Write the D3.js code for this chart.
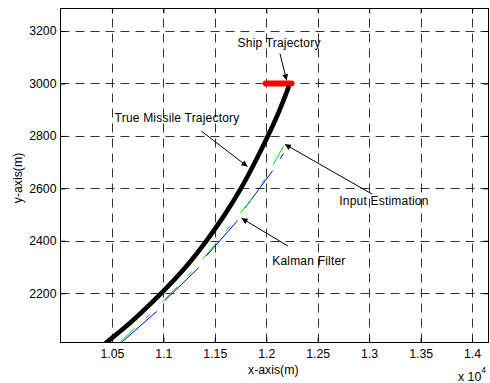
<!DOCTYPE html>
<html>
<head>
<meta charset="utf-8">
<script src="https://cdn.jsdelivr.net/npm/d3@7"></script>
<style>
  html, body { margin: 0; padding: 0; background: #fff; }
  svg { display: block; font-family: "Liberation Sans", Arial, Helvetica, sans-serif; }
</style>
</head>
<body>
<svg id="chart" width="490" height="383"></svg>
<script>
// ---- data (metres) ----
const missileX = [10445, 10700, 10980, 11200, 11404, 11590, 11748, 11880, 12010, 12118, 12215];
const missileY = [2012, 2095, 2200, 2292, 2392, 2496, 2596, 2692, 2795, 2888, 2984];

const shipX = [11995, 12245];
const shipY = [3000, 3000];

const inputEstX = [10575, 10738, 10900, 11143, 11306, 11484, 11679, 11891, 12021, 12200];
const inputEstY = [2012, 2073, 2130, 2228, 2295, 2377, 2473, 2574, 2657, 2784];

const kalmanX = [10592, 10933, 11014, 11338, 11413, 11712, 11777, 12054, 12167];
const kalmanY = [2012, 2130, 2172, 2295, 2340, 2473, 2517, 2663, 2733];

const xTicks = [10500, 11000, 11500, 12000, 12500, 13000, 13500, 14000];
const xTickLabels = ["1.05", "1.1", "1.15", "1.2", "1.25", "1.3", "1.35", "1.4"];
const yTicks = [2200, 2400, 2600, 2800, 3000, 3200];
const yTickLabels = ["2200", "2400", "2600", "2800", "3000", "3200"];

// annotation labels and arrows (data coordinates)
const noteText = ["Ship Trajectory", "True Missile Trajectory", "Input Estimation", "Kalman Filter"];
const noteAt = [[11721, 3139], [10526, 2853], [12710, 2537], [12058, 2308]];
const arrowFrom = [[12133, 3114], [11370, 2818], [13029, 2578], [12211, 2380]];
const arrowTo = [[12198, 3012], [11818, 2683], [12181, 2768], [11760, 2486]];

// ---- layout ----
const svg = d3.select("#chart");
const L = 60.5, R = 488.5, T = 8.5, B = 342.5;
const x = d3.scaleLinear().domain([10000, 14160]).range([L, R]);
const y = d3.scaleLinear().domain([2012, 3286]).range([B, T]);

const defs = svg.append("defs");
defs.append("clipPath").attr("id", "plotClip")
  .append("rect").attr("x", L).attr("y", T).attr("width", R - L).attr("height", B - T);
defs.append("marker").attr("id", "arrowHead")
  .attr("viewBox", "0 0 10 10").attr("refX", 10).attr("refY", 5)
  .attr("markerWidth", 9).attr("markerHeight", 6).attr("markerUnits", "userSpaceOnUse")
  .attr("orient", "auto")
  .append("path").attr("d", "M0,0 L10,5 L0,10 Z").attr("fill", "#000");

// grid
const grid = svg.append("g").attr("stroke", "#333").attr("stroke-width", 1)
  .attr("stroke-dasharray", "9,6").attr("fill", "none");
grid.selectAll("line.gx").data(xTicks).join("line")
  .attr("x1", d => Math.round(x(d)) + 0.5).attr("x2", d => Math.round(x(d)) + 0.5)
  .attr("y1", B).attr("y2", T);
grid.selectAll("line.gy").data(yTicks).join("line")
  .attr("y1", d => Math.round(y(d)) + 0.5).attr("y2", d => Math.round(y(d)) + 0.5)
  .attr("x1", L).attr("x2", R);

// axes with inward ticks on all sides
const xAxisB = d3.axisBottom(x).tickValues(xTicks).tickFormat((d, i) => xTickLabels[i]).tickSize(-5).tickPadding(7);
const xAxisT = d3.axisTop(x).tickValues(xTicks).tickFormat("").tickSize(-5);
const yAxisL = d3.axisLeft(y).tickValues(yTicks).tickFormat((d, i) => yTickLabels[i]).tickSize(-5).tickPadding(4);
const yAxisR = d3.axisRight(y).tickValues(yTicks).tickFormat("").tickSize(-5);

function styleAxis(g) {
  g.select(".domain").remove();
  g.selectAll("line").attr("stroke", "#000");
  g.selectAll("text").attr("fill", "#000").attr("font-size", "12.3px")
    .attr("font-family", "'Liberation Sans', Arial, sans-serif");
}
svg.append("g").attr("transform", `translate(0,${B})`).call(xAxisB).call(styleAxis);
svg.append("g").attr("transform", `translate(0,${T})`).call(xAxisT).call(styleAxis);
svg.append("g").attr("transform", `translate(${L},0)`).call(yAxisL).call(styleAxis);
svg.append("g").attr("transform", `translate(${R},0)`).call(yAxisR).call(styleAxis);

// series
const plot = svg.append("g").attr("clip-path", "url(#plotClip)");
const zip = (xs, ys) => xs.map((v, i) => [v, ys[i]]);
const lineLin = d3.line().x(d => x(d[0])).y(d => y(d[1]));
const lineSmooth = d3.line().x(d => x(d[0])).y(d => y(d[1])).curve(d3.curveCatmullRom.alpha(0.5));

plot.append("path").datum(zip(kalmanX, kalmanY))
  .attr("d", lineLin).attr("fill", "none").attr("stroke", "#0000ff")
  .attr("stroke-width", 1).attr("stroke-dasharray", "47,14");
plot.append("path").datum(zip(inputEstX, inputEstY))
  .attr("d", lineLin).attr("fill", "none").attr("stroke", "#00e000")
  .attr("stroke-width", 1).attr("stroke-dasharray", "21,15,6,17");

plot.append("path").datum(zip(shipX, shipY))
  .attr("d", lineLin).attr("fill", "none").attr("stroke", "#ff0000")
  .attr("stroke-width", 6).attr("stroke-linecap", "round");

plot.append("path").datum(zip(missileX, missileY))
  .attr("d", lineSmooth).attr("fill", "none").attr("stroke", "#000")
  .attr("stroke-width", 4.6).attr("stroke-linecap", "round").attr("stroke-linejoin", "round");

// axes box
svg.append("rect").attr("x", L).attr("y", T).attr("width", R - L).attr("height", B - T)
  .attr("fill", "none").attr("stroke", "#000").attr("stroke-width", 1);

// annotations
const notes = svg.append("g");
noteText.forEach((t, i) => {
  notes.append("line")
    .attr("x1", x(arrowFrom[i][0])).attr("y1", y(arrowFrom[i][1]))
    .attr("x2", x(arrowTo[i][0])).attr("y2", y(arrowTo[i][1]))
    .attr("stroke", "#000").attr("stroke-width", 1).attr("marker-end", "url(#arrowHead)");
  notes.append("text").attr("x", x(noteAt[i][0])).attr("y", y(noteAt[i][1]))
    .attr("font-size", "12px").attr("letter-spacing", "0.2px").attr("fill", "#000").text(t);
});

// axis titles
svg.append("text").attr("x", 248).attr("y", 374).attr("font-size", "12.3px").text("x-axis(m)");
svg.append("text").attr("transform", "translate(22,178) rotate(-90)")
  .attr("text-anchor", "middle").attr("font-size", "12.3px").text("y-axis(m)");
const mult = svg.append("text").attr("x", 458).attr("y", 381).attr("font-size", "12.3px");
mult.append("tspan").text("x 10");
mult.append("tspan").attr("dy", -8).attr("font-size", "8.5px").text("4");
</script>
</body>
</html>
